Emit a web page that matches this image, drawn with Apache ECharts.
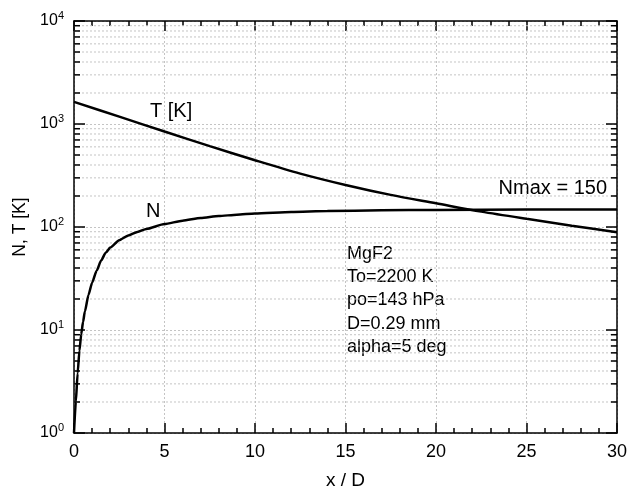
<!DOCTYPE html>
<html>
<head>
<meta charset="utf-8" />
<title>N, T vs x/D</title>
<style>
  html, body { margin: 0; padding: 0; background: #fff; }
  #chart { width: 631px; height: 501px; }
</style>
</head>
<body>
<div id="chart"></div>
<script src="https://cdn.jsdelivr.net/npm/echarts@6/dist/echarts.min.js"></script>
<script>
// N (cluster size) along the jet
const xN = [0, 0.1, 0.2, 0.3, 0.4, 0.5, 0.6, 0.8, 1, 1.25, 1.5, 1.75, 2, 2.5, 3, 3.5, 4, 5, 6, 7, 8, 9, 10, 12, 14, 17, 20, 25, 30];
const nVals = [1, 2.0, 3.8, 6.3, 9.1, 12, 15.1, 21.9, 28.8, 37.6, 47.3, 56.2, 63.1, 74.5, 82.8, 89.5, 95.7, 106.7, 115.3, 122.2, 127.6, 131.8, 135.2, 140, 142.9, 145.2, 146.6, 147.6, 147.9];

// T [K] along the jet
const xT = [0, 2.5, 5, 7.5, 10, 12.5, 15, 17.5, 20, 22.5, 25, 27.5, 30];
const tVals = [1640, 1180, 845, 610, 445, 330, 256, 205, 170, 141, 120, 103, 89];

const xTicks = { min: 0, max: 30, interval: 5 };
const yRange = { min: 1, max: 10000 };
const yDecades = [1, 10, 100, 1000];
const yMinorSteps = [2, 3, 4, 5, 6, 7, 8, 9];

const minorVals = [];
yDecades.forEach((d) => yMinorSteps.forEach((m) => minorVals.push(m * d)));

const zip = (xs, ys) => xs.map((x, i) => [x, ys[i]]);

const font = '"Liberation Sans", Arial, sans-serif';
const gridDot = { color: '#c4c4c4', type: [2, 2], width: 1 };

const baseX = {
  type: 'value',
  min: xTicks.min,
  max: xTicks.max,
  interval: xTicks.interval,
  axisLine: { show: true, onZero: false, lineStyle: { color: '#000', width: 1.5 } },
  axisTick: { show: true, inside: true, length: 10, lineStyle: { color: '#000', width: 1.5 } },
  minorTick: { show: true, splitNumber: 5, length: 5, lineStyle: { color: '#000', width: 1.5 } },
  splitLine: { show: false },
};

const baseY = {
  type: 'log',
  logBase: 10,
  min: yRange.min,
  max: yRange.max,
  axisLine: { show: true, onZero: false, lineStyle: { color: '#000', width: 1.5 } },
  axisTick: { show: true, inside: true, length: 11, lineStyle: { color: '#000', width: 1.5 } },
  splitLine: { show: false },
};

// minor log grid lines + inner ticks on both sides
const minorRender = (params, api) => {
  const v = api.value(1);
  const l = api.coord([xTicks.min, v]);
  const r = api.coord([xTicks.max, v]);
  return {
    type: 'group',
    children: [
      { type: 'line', shape: { x1: l[0], y1: l[1], x2: r[0], y2: r[1] }, style: { stroke: '#c4c4c4', lineDash: [2, 2], lineWidth: 1 } },
      { type: 'line', shape: { x1: l[0], y1: l[1], x2: l[0] + 6, y2: l[1] }, style: { stroke: '#000', lineWidth: 1.5 } },
      { type: 'line', shape: { x1: r[0] - 6, y1: r[1], x2: r[0], y2: r[1] }, style: { stroke: '#000', lineWidth: 1.5 } },
    ],
  };
};

const chart = echarts.init(document.getElementById('chart'));
chart.setOption({
  animation: false,
  backgroundColor: '#fff',
  textStyle: { fontFamily: font },
  grid: { left: 74, right: 14, top: 21, bottom: 68 },
  xAxis: [
    {
      ...baseX,
      position: 'bottom',
      name: 'x / D',
      nameLocation: 'middle',
      nameGap: 38,
      nameTextStyle: { fontSize: 19, color: '#000', fontFamily: font },
      axisLabel: { fontSize: 18, color: '#000', margin: 10, fontFamily: font },
      splitLine: { show: true, lineStyle: gridDot },
    },
    { ...baseX, position: 'top', axisLabel: { show: false } },
  ],
  yAxis: [
    {
      ...baseY,
      position: 'left',
      name: 'N, T [K]',
      nameLocation: 'middle',
      nameGap: 41,
      nameTextStyle: { fontSize: 17.5, color: '#000', fontFamily: font },
      axisLabel: {
        color: '#000',
        margin: 10,
        formatter: (v) => '{b|10}{s|' + Math.round(Math.log10(v)) + '}',
        rich: {
          b: { fontSize: 16, color: '#000', fontFamily: font },
          s: { fontSize: 11, color: '#000', fontFamily: font, verticalAlign: 'bottom', padding: [0, 0, 10, 0] },
        },
      },
      splitLine: { show: true, lineStyle: gridDot },
    },
    { ...baseY, position: 'right', axisLabel: { show: false } },
  ],
  series: [
    {
      name: 'minor',
      type: 'custom',
      xAxisIndex: 1,
      yAxisIndex: 1,
      data: minorVals.map((v) => [xTicks.min, v]),
      renderItem: minorRender,
      silent: true,
      z: 1,
    },
    {
      name: 'T',
      type: 'line',
      data: zip(xT, tVals),
      smooth: 0.3,
      showSymbol: false,
      lineStyle: { color: '#000', width: 2.5 },
      z: 5,
    },
    {
      name: 'N',
      type: 'line',
      data: zip(xN, nVals),
      smooth: 0.2,
      smoothMonotone: 'x',
      showSymbol: false,
      lineStyle: { color: '#000', width: 2.5 },
      z: 5,
    },
  ],
  graphic: [
    { type: 'text', left: 150, top: 101, style: { text: 'T [K]', fontSize: 20, fontFamily: font, fill: '#000' } },
    { type: 'text', left: 146, top: 201, style: { text: 'N', fontSize: 20, fontFamily: font, fill: '#000' } },
    { type: 'text', right: 24, top: 178, style: { text: 'Nmax = 150', fontSize: 20, fontFamily: font, fill: '#000' } },
    {
      type: 'text',
      left: 347,
      top: 242,
      style: {
        text: 'MgF2\nTo=2200 K\npo=143 hPa\nD=0.29 mm\nalpha=5 deg',
        fontSize: 18,
        fontFamily: font,
        lineHeight: 23.3,
        fill: '#000',
      },
    },
  ],
});
</script>
</body>
</html>
